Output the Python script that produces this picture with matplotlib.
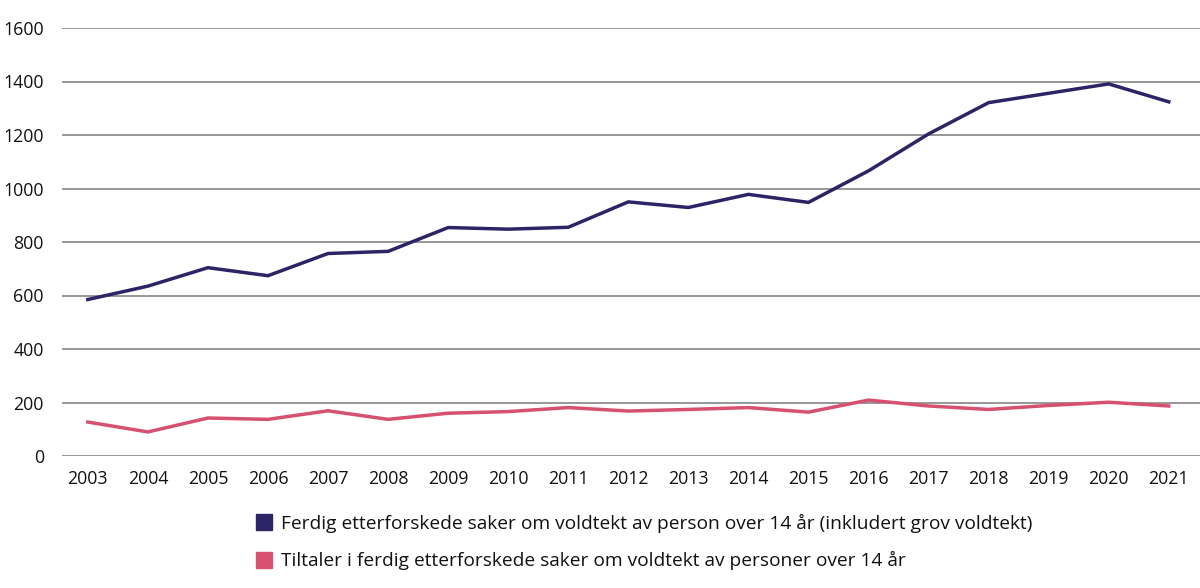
import matplotlib
matplotlib.use("Agg")
import matplotlib.pyplot as plt
from matplotlib.lines import Line2D

years = list(range(2003, 2022))
saker = [585, 635, 704, 674, 757, 765, 854, 848, 855, 950, 929, 978, 948, 1066, 1204, 1321, 1356, 1391, 1324]
tiltaler = [127, 90, 142, 137, 169, 137, 160, 166, 181, 168, 174, 181, 164, 209, 187, 174, 189, 201, 187]
labels = ["Ferdig etterforskede saker om voldtekt av person over 14 år (inkludert grov voldtekt)",
          "Tiltaler i ferdig etterforskede saker om voldtekt av personer over 14 år"]
colors = ["#2b2565", "#d6506f"]
yticks = [0, 200, 400, 600, 800, 1000, 1200, 1400, 1600]

plt.rcParams['font.family'] = ['Open Sans', 'DejaVu Sans']

fig = plt.figure(figsize=(12, 5.88), dpi=100)
ax = fig.add_axes([62/1200, 1-456/588, 1-62/1200, (456-28)/588])
ax.set_xlim(2002.57, 2021.52)
ax.set_ylim(0, 1600)
ax.set_yticks(yticks)
ax.set_xticks(years)
ax.set_xticklabels([str(y) for y in years])
ax.grid(axis='y', color='#7a7a7a', lw=1.1)
ax.set_axisbelow(True)
for s in ax.spines.values():
    s.set_visible(False)
ax.tick_params(axis='both', length=0, labelsize=12.8, colors='#111111')
ax.tick_params(axis='y', pad=13)
ax.tick_params(axis='x', pad=10)

ax.plot(years, saker, color=colors[0], lw=2.5, solid_joinstyle='miter')
ax.plot(years, tiltaler, color=colors[1], lw=2.5, solid_joinstyle='miter')

handles = [Line2D([], [], ls='none', marker='s', markersize=11, color=c) for c in colors]
fig.legend(handles, labels, loc='upper left', bbox_to_anchor=(257/1200, 1-514/588),
           frameon=False, fontsize=13.8, handlelength=0.7, handletextpad=0.55,
           labelspacing=0.95, borderaxespad=0, borderpad=0, labelcolor='#111111')

fig.savefig("out.png", dpi=100)
